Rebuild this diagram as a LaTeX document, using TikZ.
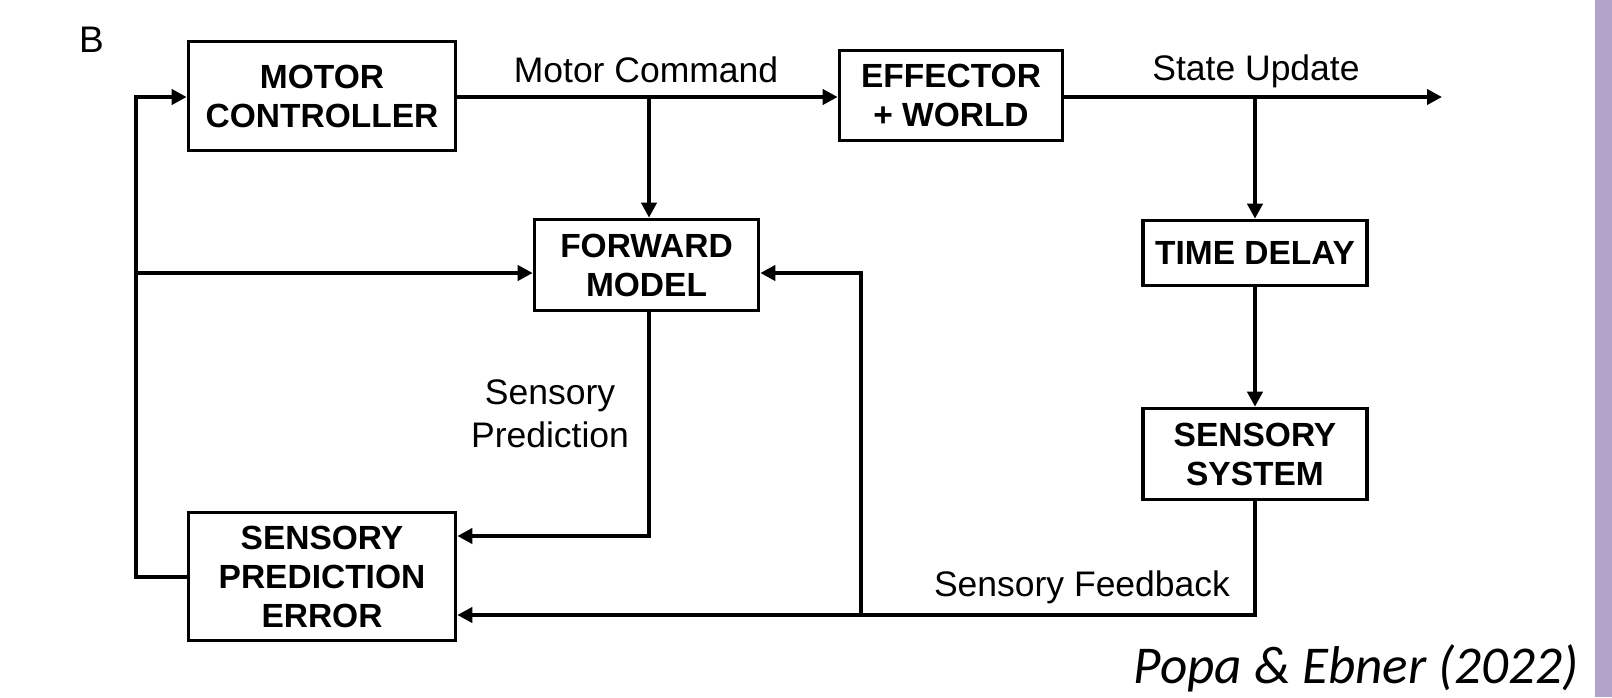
\documentclass[tikz,border=0pt]{standalone}
\usepackage{fontspec}
\setmainfont{Liberation Sans}
\newfontfamily\citefont{Carlito}
\usetikzlibrary{arrows.meta}
\definecolor{barlavender}{RGB}{178,161,201}
\begin{document}
\begin{tikzpicture}[x=1pt,y=-1pt,
  blockbox/.style={draw, line width=3.6pt, inner sep=0pt, align=center,
    font=\fontsize{33.5}{39}\selectfont\bfseries},
  conn/.style={line width=4.4pt},
  arr/.style={conn, -{Triangle[length=15pt,width=15pt]}},
  lbl/.style={font=\fontsize{35.5}{43}\selectfont, inner sep=0pt}]

% page and side bar
\fill[white] (0,0) rectangle (1612,697);
\fill[barlavender] (1595,0) rectangle (1612,697);
\useasboundingbox (0,0) rectangle (1612,697);

% blocks
\node[blockbox, minimum width=267pt, minimum height=109pt] (mc) at (322,96) {MOTOR\\CONTROLLER};
\node[blockbox, minimum width=223pt, minimum height=90pt] (ew) at (951,95.5) {EFFECTOR\\+ WORLD};
\node[blockbox, minimum width=224pt, minimum height=91pt] (fm) at (646.5,265) {FORWARD\\MODEL};
\node[blockbox, minimum width=224pt, minimum height=65pt] (td) at (1255,253) {TIME DELAY};
\node[blockbox, minimum width=224pt, minimum height=91pt] (ss) at (1255,454) {SENSORY\\SYSTEM};
\node[blockbox, minimum width=267pt, minimum height=128pt] (spe) at (322,576.5) {SENSORY\\PREDICTION\\ERROR};

% junctions and corners
\coordinate (jmc) at (649,97);
\coordinate (out) at (1442,97);
\coordinate (jsu) at (1255,97);
\coordinate (fbc) at (1255,615);
\coordinate (fbj) at (861,615);
\coordinate (lx) at (136,273);
\coordinate (ltop) at (136,97);
\coordinate (lbot) at (136,577);
\coordinate (spc) at (649,536);

% connectors
\draw[arr] (mc.east |- jmc) -- (ew.west |- jmc);
\draw[arr] (jmc) -- (jmc |- fm.north);
\draw[arr] (ew.east |- jmc) -- (out);
\draw[arr] (jsu) -- (td.north);
\draw[arr] (td.south) -- (ss.north);
\draw[arr] (ss.south) -- (fbc) -- (spe.east |- fbc);
\draw[arr] (fbj) -- (fbj |- lx) -- (fm.east |- lx);
\draw[arr] (fm.south -| jmc) -- (spc) -- (spe.east |- spc);
\draw[arr] (spe.west |- lbot) -- (lbot) -- (ltop) -- (mc.west |- ltop);
\draw[arr] (lx) -- (fm.west |- lx);

% signal labels
\node[lbl, anchor=base] (lmc) at (646,82) {Motor Command};
\node[lbl, anchor=base] (lsu) at (1256,80) {State Update};
\node[lbl, align=center] (lsp) at (550,414) {Sensory\\Prediction};
\node[lbl, anchor=base] (lsf) at (1082,596) {Sensory Feedback};

% panel letter and citation
\node[font=\fontsize{37}{37}\selectfont, anchor=base west, inner sep=0pt] (panel) at (79,52) {B};
\node[font=\citefont\itshape\fontsize{53.2}{60}\selectfont, anchor=base east, inner sep=0pt] (cite) at (1579,683) {Popa \& Ebner (2022)};
\end{tikzpicture}
\end{document}
